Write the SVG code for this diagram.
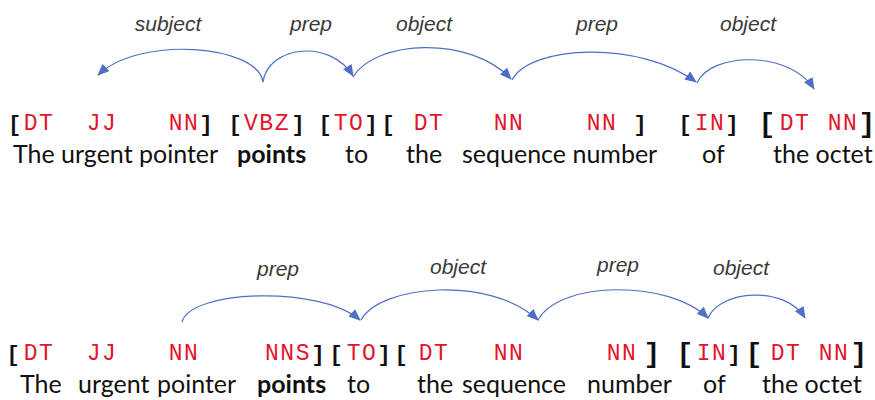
<svg xmlns="http://www.w3.org/2000/svg" width="875" height="400" viewBox="0 0 875 400">
<style>
.tag{font-family:"Liberation Mono",monospace;font-size:23px;fill:#e5132b;text-anchor:middle;letter-spacing:1.5px}
.br{font-family:"Liberation Mono",monospace;font-weight:bold;font-size:22px;fill:#111;text-anchor:middle}
.bb{font-family:"Liberation Mono",monospace;font-weight:bold;font-size:28px;fill:#111;text-anchor:middle}
.w{font-family:Lato,"Open Sans",sans-serif;font-size:25px;fill:#111}
.wb{font-family:Lato,"Open Sans",sans-serif;font-size:25px;fill:#111;font-weight:bold}
.lab{font-family:"Liberation Sans",Arial,sans-serif;font-style:italic;font-size:21px;fill:#3a3a3a;text-anchor:middle}
.arc{fill:none;stroke:#4f6fc6;stroke-width:1.2;marker-end:url(#ah)}
</style>
<defs>
<marker id="ah" markerUnits="userSpaceOnUse" markerWidth="12" markerHeight="10" viewBox="0 0 12 10" refX="11" refY="5" orient="auto">
<path d="M0,0 L12,5 L0,10 Z" fill="#4f6fc6"/>
</marker>
</defs>

<g id="connectors">
<path class="arc" d="M263,82 C258,45 140,35 98,75"/>
<path class="arc" d="M263,82 C268,46 330,38 353,76"/>
<path class="arc" d="M353,77 C375,40 470,35 511,79"/>
<path class="arc" d="M512,80 C530,45 640,40 696,82"/>
<path class="arc" d="M697,83 C710,52 790,50 814,89"/>
<path class="arc" d="M182,322 C190,290 320,285 360,320"/>
<path class="arc" d="M361,320 C380,285 490,275 538,320"/>
<path class="arc" d="M538,320 C560,280 670,280 708,318"/>
<path class="arc" d="M708,318 C720,290 785,285 805,318"/>
</g>

<g id="labels-top">
<text class="lab" x="168" y="31">subject</text>
<text class="lab" x="311" y="31">prep</text>
<text class="lab" x="424" y="31">object</text>
<text class="lab" x="597" y="31">prep</text>
<text class="lab" x="748" y="31">object</text>
</g>
<g id="labels-bottom">
<text class="lab" x="278" y="276">prep</text>
<text class="lab" x="458" y="274">object</text>
<text class="lab" x="618" y="272">prep</text>
<text class="lab" x="741" y="275">object</text>
</g>

<g id="s1-np1">
<text class="br" x="14.5" y="131">[</text>
<text class="tag" x="39" y="130">DT</text>
<text class="tag" x="102" y="130">JJ</text>
<text class="tag" x="184" y="130">NN</text>
<text class="br" x="206" y="131">]</text>
<text class="w" x="13" y="163">The urgent pointer</text>
</g>
<g id="s1-vbz">
<text class="br" x="235" y="131">[</text>
<text class="tag" x="267" y="130">VBZ</text>
<text class="br" x="298" y="131">]</text>
<text class="wb" x="237" y="163">points</text>
</g>
<g id="s1-to">
<text class="br" x="325" y="131">[</text>
<text class="tag" x="349" y="130">TO</text>
<text class="br" x="371" y="131">]</text>
<text class="w" x="345" y="163">to</text>
</g>
<g id="s1-np2">
<text class="br" x="388" y="131">[</text>
<text class="tag" x="429" y="130">DT</text>
<text class="tag" x="509" y="130">NN</text>
<text class="tag" x="602" y="130">NN</text>
<text class="br" x="640" y="131">]</text>
<text class="w" x="406" y="163">the</text>
<text class="w" x="462" y="163">sequence number</text>
</g>
<g id="s1-in">
<text class="br" x="685" y="131">[</text>
<text class="tag" x="710" y="130">IN</text>
<text class="br" x="732" y="131">]</text>
<text class="w" x="702" y="163">of</text>
</g>
<g id="s1-np3">
<text class="bb" x="767" y="132">[</text>
<text class="tag" x="795" y="130">DT</text>
<text class="tag" x="843" y="130">NN</text>
<text class="bb" x="867" y="132">]</text>
<text class="w" x="773" y="163">the octet</text>
</g>

<g id="s2-np1">
<text class="br" x="13" y="361">[</text>
<text class="tag" x="39" y="360">DT</text>
<text class="tag" x="102" y="360">JJ</text>
<text class="tag" x="184" y="360">NN</text>
<text class="tag" x="288" y="360">NNS</text>
<text class="br" x="318" y="361">]</text>
<text class="w" x="20" y="393">The</text>
<text class="w" x="78" y="393">urgent</text>
<text class="w" x="157" y="393">pointer</text>
<text class="wb" x="257" y="393">points</text>
</g>
<g id="s2-to">
<text class="br" x="336" y="361">[</text>
<text class="tag" x="362" y="360">TO</text>
<text class="br" x="384" y="361">]</text>
<text class="w" x="347" y="393">to</text>
</g>
<g id="s2-np2">
<text class="br" x="401" y="361">[</text>
<text class="tag" x="434" y="360">DT</text>
<text class="tag" x="509" y="360">NN</text>
<text class="tag" x="622" y="360">NN</text>
<text class="bb" x="652" y="362">]</text>
<text class="w" x="417" y="393">the</text>
<text class="w" x="462" y="393">sequence</text>
<text class="w" x="587" y="393">number</text>
</g>
<g id="s2-in">
<text class="bb" x="685" y="362">[</text>
<text class="tag" x="712" y="360">IN</text>
<text class="br" x="734" y="361">]</text>
<text class="w" x="703" y="393">of</text>
</g>
<g id="s2-np3">
<text class="bb" x="754" y="362">[</text>
<text class="tag" x="786" y="360">DT</text>
<text class="tag" x="834" y="360">NN</text>
<text class="bb" x="859" y="362">]</text>
<text class="w" x="762" y="393">the octet</text>
</g>
</svg>
